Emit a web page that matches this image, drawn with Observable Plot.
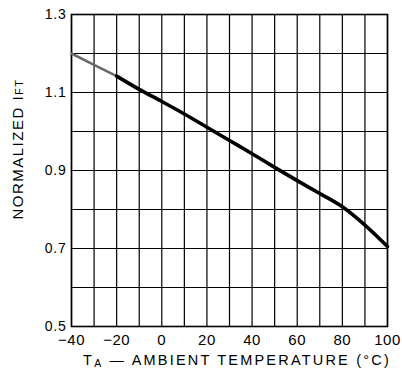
<!DOCTYPE html>
<html><head><meta charset="utf-8">
<script src="https://cdn.jsdelivr.net/npm/d3@7"></script>
<script src="https://cdn.jsdelivr.net/npm/@observablehq/plot@0.6"></script>
<style>body{margin:0;background:#fff} svg{display:block}</style>
</head><body><div id="chart"></div>
<script>
// Ambient temperature (°C)
const temps = [-40, -30, -20, -10, 0, 10, 20, 30, 40, 50, 60, 70, 80, 90, 100];
// Normalized IFT
const normIft = [1.200, 1.171, 1.142, 1.108, 1.077, 1.045, 1.011, 0.977, 0.943, 0.908, 0.874, 0.841, 0.807, 0.760, 0.705];
const xTicks = [-40, -20, 0, 20, 40, 60, 80, 100];
const yTicks = [0.5, 0.7, 0.9, 1.1, 1.3];
const xGrid = [-40, -30, -20, -10, 0, 10, 20, 30, 40, 50, 60, 70, 80, 90, 100];
const yGrid = [0.5, 0.6, 0.7, 0.8, 0.9, 1.0, 1.1, 1.2, 1.3];
const xLabelMain = "T", xLabelSub = "A", xLabelRest = " — AMBIENT TEMPERATURE (°C)";
const yLabelMain = "NORMALIZED I", yLabelSub = "FT";

const data = temps.map((t, i) => ({t, v: normIft[i]}));

const chart = Plot.plot({
  width: 402, height: 378,
  marginLeft: 71, marginRight: 15, marginTop: 14, marginBottom: 52,
  style: {fontFamily: "'Liberation Sans', Arial, sans-serif", color: "#000", background: "#fff"},
  x: {domain: [-40, 100]},
  y: {domain: [0.5, 1.3]},
  marks: [
    Plot.gridX(xGrid, {stroke: "#000", strokeOpacity: 1, strokeWidth: 1.2}),
    Plot.gridY(yGrid, {stroke: "#000", strokeOpacity: 1, strokeWidth: 1.2}),
    Plot.frame({stroke: "#000", strokeWidth: 1.6}),
    Plot.line(data.filter(d => d.t <= -20), {x: "t", y: "v", stroke: "#6a6a6a", strokeWidth: 2.6, curve: "monotone-x"}),
    Plot.line(data.filter(d => d.t >= -20), {x: "t", y: "v", stroke: "#000", strokeWidth: 3.6, curve: "monotone-x"}),
    Plot.axisX(xTicks, {tickSize: 0, tickPadding: 8, fontSize: 15, label: null, fill: "#000"}),
    Plot.axisY(yTicks, {tickSize: 0, tickPadding: 5, fontSize: 14, label: null, fill: "#000", tickFormat: d3.format(".1f")})
  ]
});
document.getElementById("chart").append(chart);

const svg = d3.select(chart);
svg.selectAll("g[aria-label='y-axis tick label'] text").style("letter-spacing", "0.8px");
svg.selectAll("g[aria-label='x-axis tick label'] text").style("letter-spacing", "0.5px");

const xl = svg.append("text")
  .attr("x", 237).attr("y", 365)
  .attr("text-anchor", "middle")
  .attr("font-size", 14.5)
  .attr("fill", "#000")
  .style("letter-spacing", "2.2px");
xl.append("tspan").text(xLabelMain);
xl.append("tspan").attr("font-size", 10.5).attr("dy", 2).text(xLabelSub);
xl.append("tspan").attr("dy", -2).text(xLabelRest);

const yl = svg.append("text")
  .attr("transform", "translate(23,149) rotate(-90)")
  .attr("text-anchor", "middle")
  .attr("font-size", 15)
  .attr("fill", "#000")
  .style("letter-spacing", "1.5px");
yl.append("tspan").text(yLabelMain);
yl.append("tspan").attr("font-size", 11).text(yLabelSub);
</script>
</body></html>
